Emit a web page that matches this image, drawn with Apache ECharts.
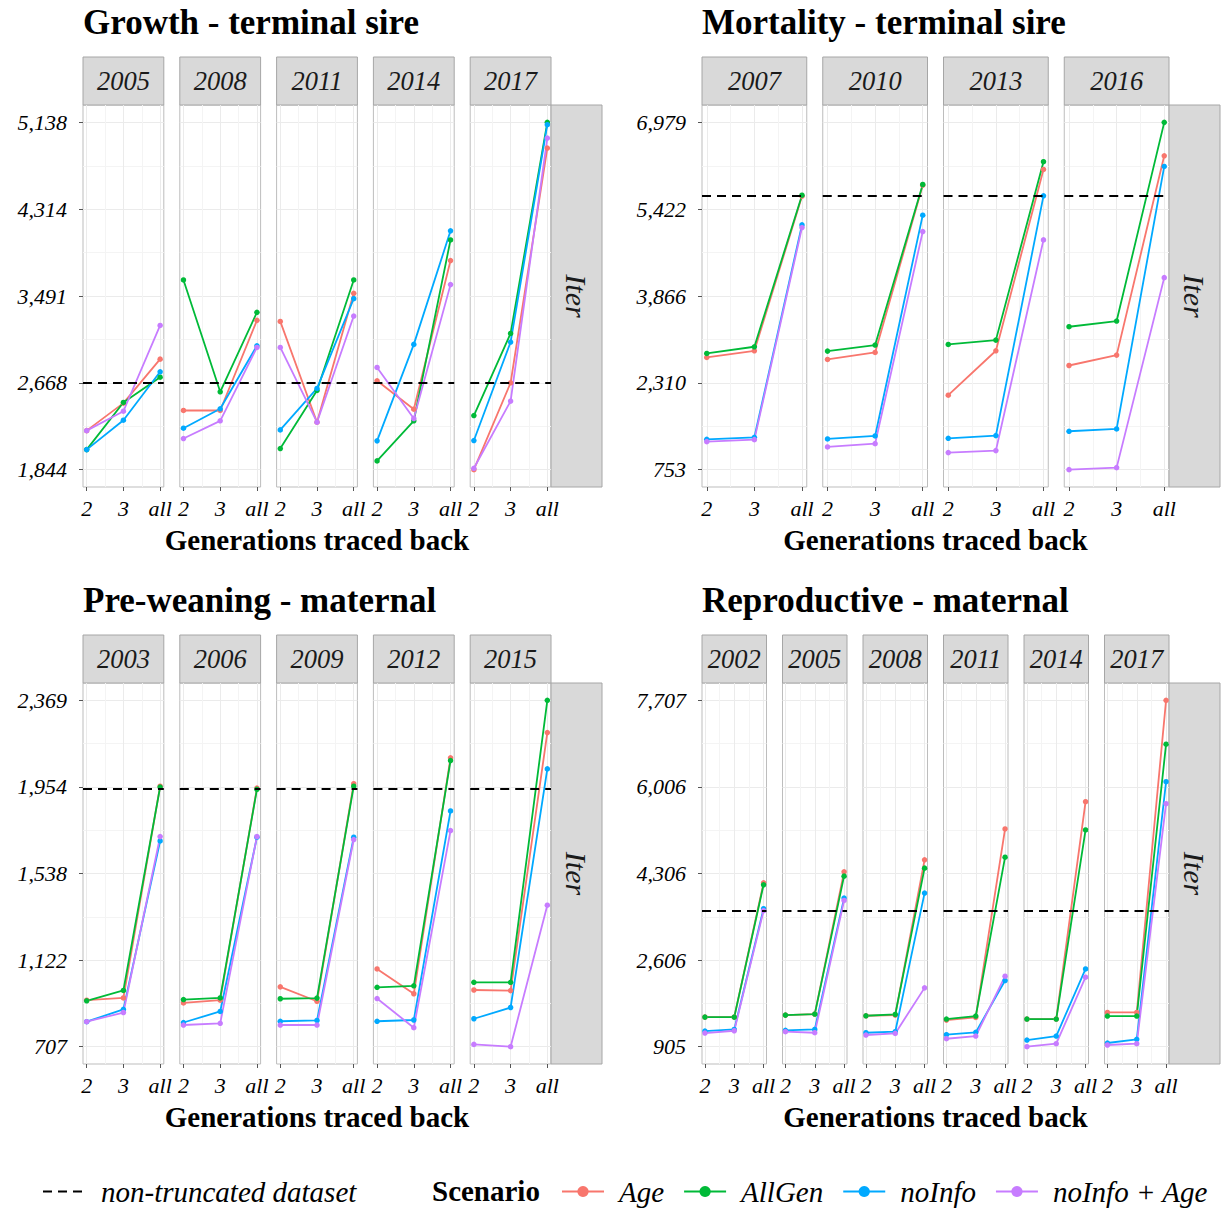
<!DOCTYPE html>
<html><head><meta charset="utf-8">
<script src="https://cdn.jsdelivr.net/npm/echarts@6/dist/echarts.min.js"></script>
<style>html,body{margin:0;padding:0;background:#fff}#main{width:1229px;height:1208px}</style>
</head><body><div id="main"></div>
<script>
// ---------------- data ----------------
const scenarios = ['Age', 'AllGen', 'noInfo', 'noInfo + Age'];
const generations = ['2', '3', 'all'];

const growthYears = ['2005', '2008', '2011', '2014', '2017'];
const growthTicks = [1844, 2668, 3491, 4314, 5138];
const growthRef = 2668;
const growthAge       = [[2214, 2475, 2892], [2405, 2405, 3260], [3250, 2294, 3516], [2687, 2417, 3827], [1844, 2668, 4894]];
const growthAllGen    = [[2034, 2481, 2721], [3643, 2582, 3336], [2044, 2595, 3643], [1927, 2307, 4023], [2357, 3136, 5138]];
const growthNoInfo    = [[2034, 2313, 2772], [2237, 2421, 3019], [2221, 2614, 3466], [2117, 3032, 4109], [2120, 3054, 5116]];
const growthNoInfoAge = [[2214, 2398, 3212], [2139, 2307, 3003], [3003, 2294, 3301], [2813, 2329, 3599], [1857, 2494, 4989]];

const mortYears = ['2007', '2010', '2013', '2016'];
const mortTicks = [753, 2310, 3866, 5422, 6979];
const mortRef = 5662;
const mortAge       = [[2764, 2884, 5655], [2728, 2854, 5853], [2088, 2884, 6135], [2620, 2806, 6380]];
const mortAllGen    = [[2836, 2956, 5674], [2878, 2986, 5865], [2998, 3075, 6273], [3315, 3417, 6979]];
const mortNoInfo    = [[1297, 1333, 5141], [1303, 1357, 5315], [1315, 1363, 5662], [1441, 1483, 6189]];
const mortNoInfoAge = [[1255, 1291, 5093], [1160, 1219, 5021], [1058, 1094, 4872], [753, 789, 4195]];

const preYears = ['2003', '2006', '2009', '2012', '2015'];
const preTicks = [707, 1122, 1538, 1954, 2369];
const preRef = 1945;
const preAge       = [[930, 941, 1957], [917, 930, 1948], [994, 925, 1969], [1080, 961, 2093], [979, 976, 2214]];
const preAllGen    = [[927, 977, 1953], [933, 941, 1942], [937, 940, 1957], [992, 999, 2080], [1016, 1016, 2369]];
const preNoInfo    = [[827, 886, 1694], [823, 876, 1712], [829, 833, 1712], [829, 835, 1838], [841, 895, 2040]];
const preNoInfoAge = [[827, 871, 1715], [811, 819, 1715], [811, 811, 1701], [938, 798, 1744], [718, 707, 1386]];

const repYears = ['2002', '2005', '2008', '2011', '2014', '2017'];
const repTicks = [905, 2606, 4306, 6006, 7707];
const repRef = 3575;
const repAge       = [[1486, 1486, 4123], [1525, 1545, 4339], [1512, 1525, 4574], [1427, 1480, 5181], [1447, 1447, 5716], [1577, 1577, 7707]];
const repAllGen    = [[1486, 1486, 4084], [1525, 1545, 4254], [1512, 1538, 4411], [1447, 1506, 4626], [1447, 1447, 5161], [1506, 1506, 6845]];
const repNoInfo    = [[1212, 1244, 3614], [1225, 1244, 3823], [1179, 1199, 3921], [1140, 1186, 2204], [1035, 1114, 2432], [977, 1049, 6108]];
const repNoInfoAge = [[1173, 1218, 3575], [1199, 1179, 3777], [1134, 1166, 2060], [1061, 1114, 2289], [905, 964, 2270], [938, 964, 5677]];

const refName = 'non-truncated dataset';
const xTitle = 'Generations traced back';
const stripRightLabel = 'Iter';
const legendTitle = 'Scenario';

// ---------------- layout / style ----------------
const FONT = '"Liberation Serif","DejaVu Serif","Times New Roman",serif';
const COLORS = ['#F8766D', '#00BA38', '#00A9FF', '#C77CFF'];
const COLS = [{x0: 83, x1: 551, stripR: 602}, {x0: 702, x1: 1169, stripR: 1220}];
const ROWS = [
  {stripTop: 57, plotTop: 105, plotBottom: 487, titleY: 22, xTitleY: 540},
  {stripTop: 635, plotTop: 683, plotBottom: 1064, titleY: 600, xTitleY: 1117}
];
const GAP = 16;

const panels = [
  {title: 'Growth - terminal sire', years: growthYears, ticks: growthTicks, ref: growthRef, vals: [growthAge, growthAllGen, growthNoInfo, growthNoInfoAge], col: 0, row: 0},
  {title: 'Mortality - terminal sire', years: mortYears, ticks: mortTicks, ref: mortRef, vals: [mortAge, mortAllGen, mortNoInfo, mortNoInfoAge], col: 1, row: 0},
  {title: 'Pre-weaning - maternal', years: preYears, ticks: preTicks, ref: preRef, vals: [preAge, preAllGen, preNoInfo, preNoInfoAge], col: 0, row: 1},
  {title: 'Reproductive - maternal', years: repYears, ticks: repTicks, ref: repRef, vals: [repAge, repAllGen, repNoInfo, repNoInfoAge], col: 1, row: 1}
];

const grid = [], xAxis = [], yAxis = [], series = [], graphic = [];
const fmt = v => Math.round(v).toLocaleString('en-US');
const nG = generations.length;
const xMin = 1 - 0.05 * (nG - 1), xMax = nG + 0.05 * (nG - 1);
const xMajor = generations.map((g, i) => i + 1);
const xMinor = xMajor.slice(0, -1).map(v => v + 0.5);
const DASH = [9, 6];

panels.forEach(p => {
  const C = COLS[p.col], R = ROWS[p.row];
  const n = p.years.length;
  const w = (C.x1 - C.x0 - GAP * (n - 1)) / n;
  const h = R.plotBottom - R.plotTop;
  const lo = p.ticks[0], hi = p.ticks[p.ticks.length - 1];
  const yMin = lo - 0.05 * (hi - lo), yMax = hi + 0.05 * (hi - lo);
  const yMinor = p.ticks.slice(0, -1).map((t, k) => (t + p.ticks[k + 1]) / 2);

  graphic.push({type: 'text', x: C.x0, y: R.titleY, style: {text: p.title, fontFamily: FONT, fontWeight: 'bold', fontSize: 35, fill: '#000', align: 'left', verticalAlign: 'middle'}});
  graphic.push({type: 'text', x: (C.x0 + C.x1) / 2, y: R.xTitleY, style: {text: xTitle, fontFamily: FONT, fontWeight: 'bold', fontSize: 29, fill: '#000', align: 'center', verticalAlign: 'middle'}});
  graphic.push({type: 'rect', shape: {x: C.x1, y: R.plotTop, width: C.stripR - C.x1, height: h}, style: {fill: '#D9D9D9', stroke: '#A6A6A6', lineWidth: 1}});
  graphic.push({type: 'text', x: (C.x1 + C.stripR) / 2, y: (R.plotTop + R.plotBottom) / 2, rotation: -Math.PI / 2, style: {text: stripRightLabel, fontFamily: FONT, fontStyle: 'italic', fontSize: 30, fill: '#1A1A1A', align: 'center', verticalAlign: 'middle'}});

  p.years.forEach((yr, i) => {
    const left = C.x0 + i * (w + GAP);
    const g = grid.length;
    grid.push({left: left, top: R.plotTop, width: w, height: h, show: true, backgroundColor: '#fff', borderColor: '#BDBDBD', borderWidth: 1});
    xAxis.push({gridIndex: g, type: 'value', min: xMin, max: xMax, position: 'bottom',
      axisLine: {show: false},
      axisTick: {show: true, customValues: xMajor, length: 4, lineStyle: {color: '#555', width: 1}},
      axisLabel: {customValues: xMajor, formatter: v => generations[Math.round(v) - 1], fontFamily: FONT, fontStyle: 'italic', fontSize: 22, color: '#000', margin: 10},
      splitLine: {show: true, lineStyle: {color: '#EBEBEB', width: 1}}});
    xAxis.push({gridIndex: g, type: 'value', min: xMin, max: xMax, position: 'top',
      axisLine: {show: false}, axisTick: {show: false, customValues: xMinor}, axisLabel: {show: false},
      splitLine: {show: true, lineStyle: {color: '#F4F4F4', width: 1}}});
    yAxis.push({gridIndex: g, type: 'value', min: yMin, max: yMax, position: 'left',
      axisLine: {show: false},
      axisTick: {show: i === 0, customValues: p.ticks, length: 4, lineStyle: {color: '#555', width: 1}},
      axisLabel: {show: i === 0, customValues: p.ticks, formatter: fmt, fontFamily: FONT, fontStyle: 'italic', fontSize: 22, color: '#000', margin: 16},
      splitLine: {show: true, lineStyle: {color: '#EBEBEB', width: 1}}});
    yAxis.push({gridIndex: g, type: 'value', min: yMin, max: yMax, position: 'right',
      axisLine: {show: false}, axisTick: {show: false, customValues: yMinor}, axisLabel: {show: false},
      splitLine: {show: true, lineStyle: {color: '#F4F4F4', width: 1}}});
    const xi = 2 * g, yi = 2 * g;
    series.push({type: 'line', name: refName, xAxisIndex: xi, yAxisIndex: yi, data: [], symbol: 'none', silent: true,
      lineStyle: {color: '#000', type: DASH, width: 2.2}, itemStyle: {color: '#000'},
      markLine: {silent: true, symbol: ['none', 'none'], label: {show: false}, animation: false,
        lineStyle: {color: '#000', type: DASH, width: 2.2}, emphasis: {disabled: true}, data: [{yAxis: p.ref}]}});
    scenarios.forEach((s, k) => {
      series.push({type: 'line', name: s, xAxisIndex: xi, yAxisIndex: yi,
        data: p.vals[k][i].map((v, j) => [xMajor[j], v]),
        symbol: 'circle', symbolSize: 5.5, showSymbol: true, silent: true,
        lineStyle: {color: COLORS[k], width: 1.8}, itemStyle: {color: COLORS[k]},
        emphasis: {disabled: true}});
    });
    graphic.push({type: 'rect', shape: {x: left, y: R.stripTop, width: w, height: R.plotTop - R.stripTop}, style: {fill: '#D9D9D9', stroke: '#A6A6A6', lineWidth: 1}});
    graphic.push({type: 'text', x: left + w / 2, y: (R.stripTop + R.plotTop) / 2, style: {text: yr, fontFamily: FONT, fontStyle: 'italic', fontSize: 26.5, fill: '#1A1A1A', align: 'center', verticalAlign: 'middle'}});
  });
});

graphic.push({type: 'text', x: 432, y: 1191, style: {text: legendTitle, fontFamily: FONT, fontWeight: 'bold', fontSize: 29, fill: '#000', align: 'left', verticalAlign: 'middle'}});

const legendText = {fontFamily: FONT, fontStyle: 'italic', fontSize: 29, color: '#000'};
const option = {
  animation: false,
  backgroundColor: '#fff',
  grid, xAxis, yAxis, series, graphic,
  legend: [
    {data: [{name: refName, itemStyle: {opacity: 0}}], left: 37, top: 1172, itemWidth: 42, itemHeight: 14, selectedMode: false,
      textStyle: Object.assign({}, legendText, {padding: [0, 0, 0, 11]})},
    {data: scenarios, left: 556, top: 1172, itemWidth: 42, itemHeight: 14, itemGap: 19, selectedMode: false,
      textStyle: Object.assign({}, legendText, {padding: [0, 0, 0, 10]})}
  ]
};

const chart = echarts.init(document.getElementById('main'), null, {renderer: 'svg', width: 1229, height: 1208});
chart.setOption(option);
</script>
</body></html>
